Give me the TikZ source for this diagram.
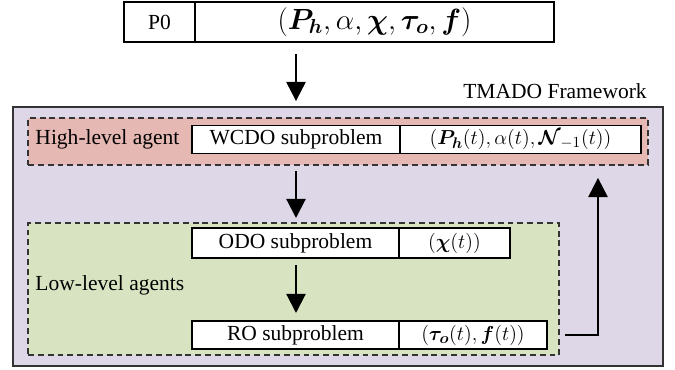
\documentclass[tikz,border=0pt]{standalone}
\usepackage{amsmath}
\usepackage{bm}
\usepackage{fontspec}
\setmainfont{Liberation Serif}
\usetikzlibrary{arrows.meta, calc}
\definecolor{tmframe}{HTML}{DDD7E8}
\definecolor{tmhigh}{HTML}{E6B8B3}
\definecolor{tmlow}{HTML}{D8E4C1}
\definecolor{tmline}{HTML}{333333}

\begin{document}
\begin{tikzpicture}[
    font=\fontsize{15.3}{18}\selectfont,
    cell/.style={rectangle, draw=black, line width=0.8pt, fill=white, minimum width=#1, minimum height=0.72cm, inner sep=0pt, outer sep=0pt},
    agentbox/.style={rectangle, draw=tmline, line width=0.8pt, dash pattern=on 4.2pt off 2.8pt, fill=#1, inner sep=0pt},
    arr/.style={-{Triangle[length=0.48cm, width=0.48cm]}, line width=1.5pt}
]
\useasboundingbox (0,0) rectangle (16.875,9.225);

% problem P0
\node[cell=1.775cm, minimum height=1cm] (p0) at (3.9875,8.675) {P0};
\node[cell=8.975cm, minimum height=1cm, font=\fontsize{22}{26}\selectfont] (p0var) at (9.3625,8.675)
    {$(\bm{P}_{\bm{h}},\alpha,\bm{\chi},\bm{\tau}_{\bm{o}},\bm{f})$};

% framework and agents
\node[rectangle, draw=tmline, line width=0.8pt, fill=tmframe, minimum width=16.25cm, minimum height=6.475cm, inner sep=0pt] (tmado) at (8.45,3.3125) {};
\node[anchor=base east, inner sep=0pt] (tmadolabel) at (16.175,6.775) {TMADO Framework};
\node[agentbox=tmhigh, minimum width=15.5cm, minimum height=1.175cm] (high) at (8.45,5.6875) {};
\node[agentbox=tmlow, minimum width=13.275cm, minimum height=3.3cm] (low) at (7.3375,2.0) {};
\node[anchor=west, inner sep=0pt] (highlabel) at (0.88,5.7375) {High-level agent};
\node[anchor=west, inner sep=0pt] (lowlabel) at (0.88,2.1) {Low-level agents};

% subproblems
\node[cell=5.2cm] (wcdo) at (7.4,5.7375) {WCDO subproblem};
\node[cell=6.025cm] (wcdovar) at (13.0125,5.7375) {$(\bm{P}_{\bm{h}}(t),\alpha(t),\bm{\mathcal{N}}_{-1}(t))$};
\node[cell=5.175cm, minimum height=0.75cm] (odo) at (7.3875,3.15) {ODO subproblem};
\node[cell=2.775cm, minimum height=0.75cm] (odovar) at (11.3625,3.15) {$(\bm{\chi}(t))$};
\node[cell=5.175cm, minimum height=0.7cm] (ro) at (7.3875,0.85) {RO subproblem};
\node[cell=3.7cm, minimum height=0.7cm] (rovar) at (11.825,0.85) {$(\bm{\tau}_{\bm{o}}(t),\bm{f}(t))$};

% flow
\coordinate (back) at (14.95,0.85);
\draw[arr, shorten <=0.3cm, shorten >=0.6cm] (p0var.south -| wcdo.center) -- (wcdo.north);
\draw[arr, shorten <=0.425cm, shorten >=0.25cm] (wcdo.south) -- (odo.north -| wcdo.center);
\draw[arr, shorten <=0.175cm, shorten >=0.2cm] (odo.south -| wcdo.center) -- (ro.north -| wcdo.center);
\draw[arr, shorten <=0.45cm, shorten >=0.6cm] (rovar.east) -- (back) -- (back |- wcdovar.south);
\end{tikzpicture}
\end{document}
